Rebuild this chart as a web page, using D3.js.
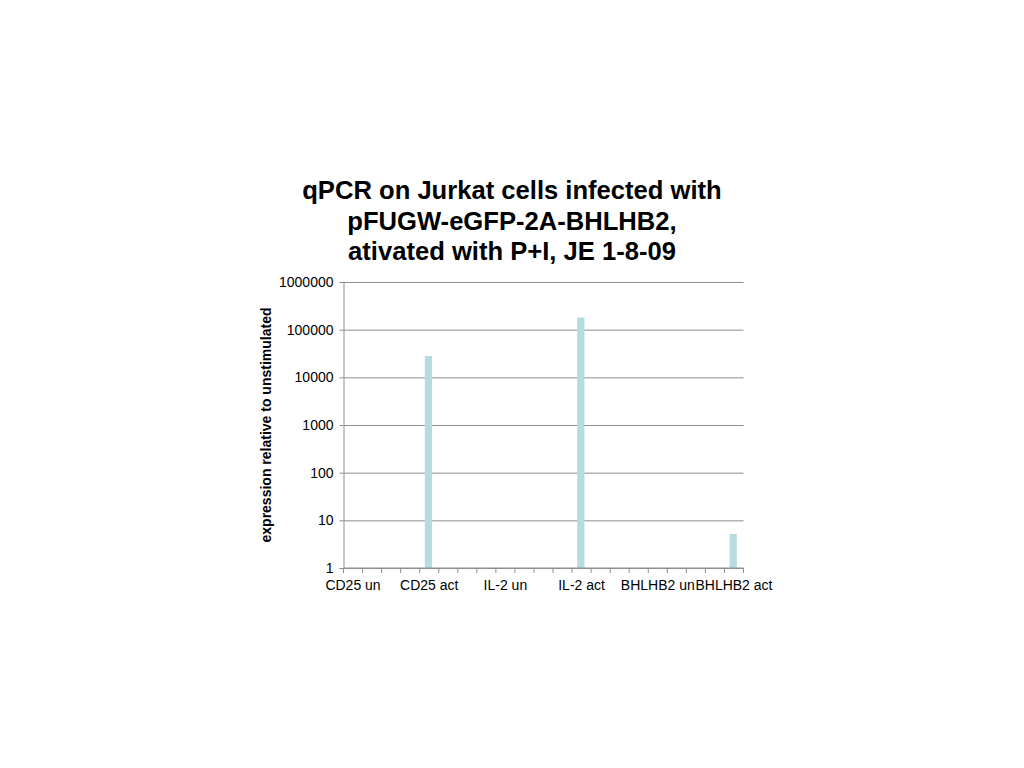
<!DOCTYPE html>
<html>
<head>
<meta charset="utf-8">
<script src="https://cdn.jsdelivr.net/npm/d3@7"></script>
<style>
  html, body { margin: 0; padding: 0; background: #fff; }
  svg { display: block; font-family: "Liberation Sans", Arial, Helvetica, sans-serif; }
</style>
</head>
<body>
<svg id="chart" width="1024" height="768"></svg>
<script>
// ---- data ----
const titleLines = ["qPCR on Jurkat cells infected with", "pFUGW-eGFP-2A-BHLHB2,", "ativated with P+I, JE 1-8-09"];
const yLabel = "expression relative to unstimulated";
// 21 categories; only every 4th label is displayed (others unlabeled in the picture)
const categories = ["CD25 un", "", "", "", "CD25 act", "", "", "", "IL-2 un", "", "", "", "IL-2 act", "", "", "", "BHLHB2 un", "", "", "", "BHLHB2 act"];
const values = [null, null, null, null, 28000, null, null, null, null, null, null, null, 180000, null, null, null, null, null, null, null, 5.2];
const yTicks = [1, 10, 100, 1000, 10000, 100000, 1000000];

// ---- layout ----
const svg = d3.select("#chart");
const m = { left: 343.5, right: 743.5, top: 282, bottom: 568 };

const x = d3.scaleBand().domain(d3.range(categories.length)).range([m.left, m.right]).padding(0);
const y = d3.scaleLog().domain([1, 1000000]).range([m.bottom, m.top]);

// title
svg.append("text")
  .attr("x", 512).attr("text-anchor", "middle")
  .attr("font-size", 25.6).attr("font-weight", "bold").attr("fill", "#000")
  .selectAll("tspan").data(titleLines).join("tspan")
  .attr("x", 512).attr("y", (d, i) => 199 + i * 30.5).text(d => d);

// gridlines
svg.append("g")
  .attr("transform", `translate(${m.left},0)`)
  .call(d3.axisLeft(y).tickValues(yTicks).tickSize(-(m.right - m.left)).tickFormat(""))
  .call(g => g.select(".domain").remove())
  .call(g => g.selectAll("line").attr("stroke", "#8e8e8e").attr("stroke-width", 1));

// y axis
svg.append("g")
  .attr("transform", `translate(${m.left},0)`)
  .call(d3.axisLeft(y).tickValues(yTicks).tickSize(4).tickPadding(6).tickFormat(d3.format("d")))
  .call(g => g.select(".domain").attr("stroke", "#8e8e8e"))
  .call(g => g.selectAll("line").attr("stroke", "#8e8e8e"))
  .call(g => g.selectAll("text").attr("font-size", 14).attr("fill", "#000")
    .attr("font-family", "'Liberation Sans', Arial, sans-serif"));

// bars
const bw = x.bandwidth();
svg.append("g").selectAll("rect")
  .data(values.map((v, i) => ({ i, v })).filter(d => d.v != null))
  .join("rect")
  .attr("x", d => x(d.i) + bw * 0.27)
  .attr("width", bw * 0.38)
  .attr("y", d => y(d.v))
  .attr("height", d => y(1) - y(d.v))
  .attr("fill", "#b5dcdf");

// x axis line
svg.append("line")
  .attr("x1", m.left).attr("x2", m.right).attr("y1", m.bottom).attr("y2", m.bottom)
  .attr("stroke", "#8e8e8e");

// boundary ticks
const bounds = d3.range(categories.length + 1).map(i => m.left + i * x.step());
svg.append("g").selectAll("line").data(bounds).join("line")
  .attr("x1", d => d).attr("x2", d => d)
  .attr("y1", m.bottom).attr("y2", m.bottom + 5)
  .attr("stroke", "#8e8e8e");

// category labels
svg.append("g").selectAll("text")
  .data(categories.map((c, i) => ({ c, i })).filter(d => d.c !== ""))
  .join("text")
  .attr("x", d => x(d.i) + bw / 2)
  .attr("y", 590)
  .attr("text-anchor", "middle")
  .attr("font-size", 14).attr("fill", "#000")
  .text(d => d.c);

// y label
svg.append("text")
  .attr("transform", "translate(271,425) rotate(-90)")
  .attr("text-anchor", "middle")
  .attr("font-size", 14).attr("font-weight", "bold").attr("fill", "#000")
  .text(yLabel);
</script>
</body>
</html>
